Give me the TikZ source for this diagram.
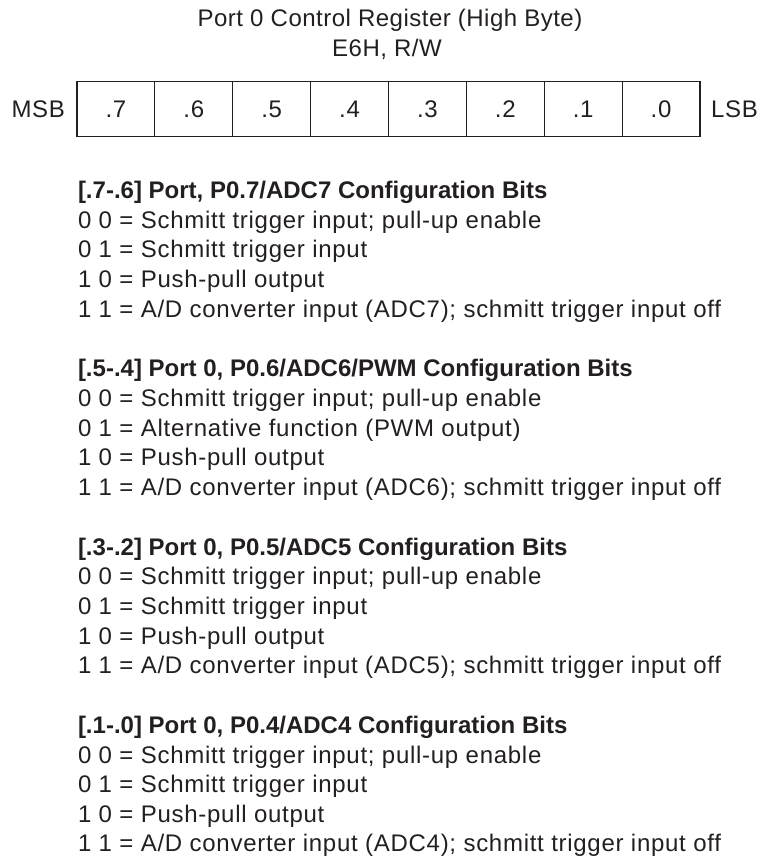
\documentclass[tikz,border=0pt]{standalone}
\usepackage{fontspec}
\setmainfont{Liberation Sans}
\newfontfamily\bodyfont{Liberation Sans}[LetterSpace=3]
\newfontfamily\titlefont{Liberation Sans}[LetterSpace=2]
\newfontfamily\headfont{Liberation Sans}[LetterSpace=0]
\definecolor{ink}{HTML}{231F20}
\begin{document}
\begin{tikzpicture}[x=1pt,y=-1pt,
  every node/.style={text=ink, inner sep=0pt, outer sep=0pt},
  txt/.style={anchor=base west, font=\bodyfont\fontsize{24}{28}\selectfont},
  hd/.style={anchor=base west, font=\headfont\bfseries\fontsize{24}{28}\selectfont},
  ttl/.style={anchor=base, font=\titlefont\fontsize{24}{28}\selectfont},
  side/.style={font=\bodyfont\fontsize{24}{28}\selectfont},
  cell/.style={draw=ink, line width=1.2pt, minimum width=77.875pt, minimum height=55pt, anchor=center, font=\bodyfont\fontsize{24}{28}\selectfont}]
\useasboundingbox (0,0) rectangle (760,859);
% title
\node[ttl] (t1) at (390,26.6) {Port 0 Control Register (High Byte)};
\node[ttl] (t2) at (387,56.6) {E6H, R/W};
% register
\node[cell] (c7) at (115.94,109) {.7};
\node[cell] (c6) at (193.81,109) {.6};
\node[cell] (c5) at (271.69,109) {.5};
\node[cell] (c4) at (349.56,109) {.4};
\node[cell] (c3) at (427.44,109) {.3};
\node[cell] (c2) at (505.31,109) {.2};
\node[cell] (c1) at (583.19,109) {.1};
\node[cell] (c0) at (661.06,109) {.0};
\node[side, anchor=base east] (msb) at (65,117.6) {MSB};
\node[side, anchor=base west] (lsb) at (711,117.6) {LSB};
% section 1
\node[hd]  (h1)  at (78,198.6) {[.7-.6] Port, P0.7/ADC7 Configuration Bits};
\node[txt] (s1a) at (78,228.2) {0 0 = Schmitt trigger input; pull-up enable};
\node[txt] (s1b) at (78,257.8) {0 1 = Schmitt trigger input};
\node[txt] (s1c) at (78,287.4) {1 0 = Push-pull output};
\node[txt] (s1d) at (78,317.0) {1 1 = A/D converter input (ADC7); schmitt trigger input off};
% section 2
\node[hd]  (h2)  at (78,376.9) {[.5-.4] Port 0, P0.6/ADC6/PWM Configuration Bits};
\node[txt] (s2a) at (78,406.5) {0 0 = Schmitt trigger input; pull-up enable};
\node[txt] (s2b) at (78,436.1) {0 1 = Alternative function (PWM output)};
\node[txt] (s2c) at (78,465.7) {1 0 = Push-pull output};
\node[txt] (s2d) at (78,495.3) {1 1 = A/D converter input (ADC6); schmitt trigger input off};
% section 3
\node[hd]  (h3)  at (78,555.2) {[.3-.2] Port 0, P0.5/ADC5 Configuration Bits};
\node[txt] (s3a) at (78,584.8) {0 0 = Schmitt trigger input; pull-up enable};
\node[txt] (s3b) at (78,614.4) {0 1 = Schmitt trigger input};
\node[txt] (s3c) at (78,644.0) {1 0 = Push-pull output};
\node[txt] (s3d) at (78,673.6) {1 1 = A/D converter input (ADC5); schmitt trigger input off};
% section 4
\node[hd]  (h4)  at (78,733.5) {[.1-.0] Port 0, P0.4/ADC4 Configuration Bits};
\node[txt] (s4a) at (78,763.1) {0 0 = Schmitt trigger input; pull-up enable};
\node[txt] (s4b) at (78,792.7) {0 1 = Schmitt trigger input};
\node[txt] (s4c) at (78,822.3) {1 0 = Push-pull output};
\node[txt] (s4d) at (78,851.9) {1 1 = A/D converter input (ADC4); schmitt trigger input off};
\end{tikzpicture}
\end{document}
